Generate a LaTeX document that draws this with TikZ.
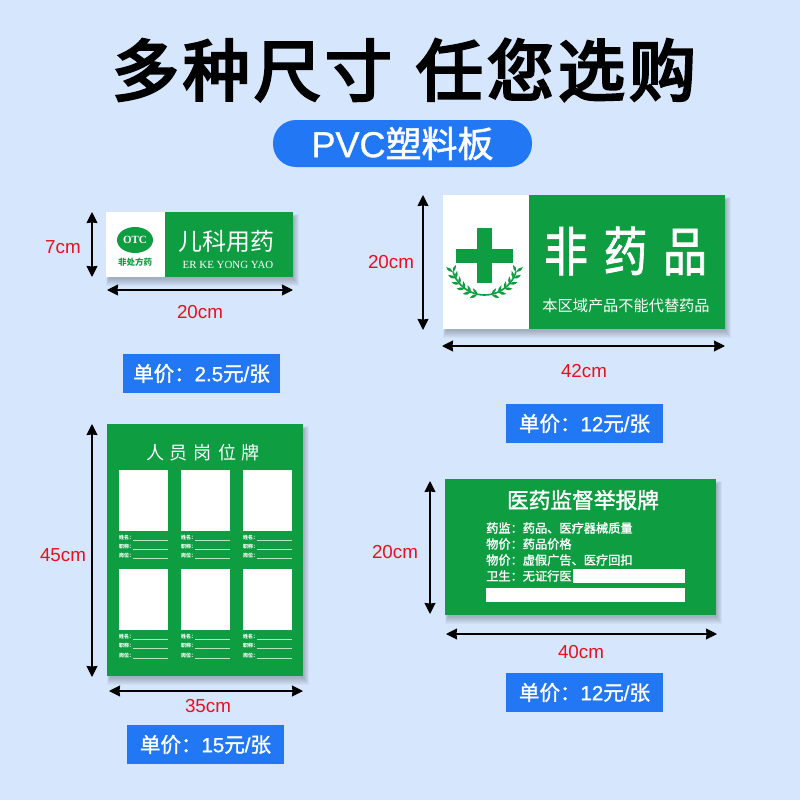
\documentclass[tikz,border=0pt]{standalone}
\usepackage{fontspec}
\setmainfont{Liberation Sans}
\newfontfamily\cjk{Noto Sans CJK SC}
\newfontfamily\cjkmid[FakeBold=1.5]{Noto Sans CJK SC}
\newfontfamily\cjkheading[FakeBold=4,LetterSpace=6]{Noto Sans CJK SC}
\newfontfamily\latinserif{Liberation Serif}
\newfontfamily\latinmid[FakeBold=1]{Liberation Sans}
\usetikzlibrary{arrows.meta}
\definecolor{pagebg}{HTML}{D6E6FC}
\definecolor{signgreen}{HTML}{0F9D42}
\definecolor{priceblue}{HTML}{2277F5}
\definecolor{sizered}{HTML}{E8101E}
\newcommand{\sz}[1]{\fontsize{#1}{#1}\selectfont}
% soft shadow under a sign: x0,y0,x1,y1
\newcommand{\signshadow}[4]{
  \foreach \s in {0,1,...,7}
    \fill[black,opacity=.03] (#1+3-\s*.4,#2+5-\s*.4) rectangle (#3+1+\s*.7,#4+2+\s);
}
% price text: number, then the unit
\newcommand{\pricetext}[1]{{\cjkmid 单价：}{\latinmid #1}{\cjkmid 元}{\latinmid /}{\cjkmid 张}}
\tikzset{
  dimarrow/.style={{Stealth[length=11pt,width=11pt,inset=.5pt]}-{Stealth[length=11pt,width=11pt,inset=.5pt]},line width=1.5pt,black},
  sizelabel/.style={text=sizered,inner sep=0pt,font=\sz{18.8}},
  pricebox/.style={fill=priceblue,text=white,minimum width=157pt,minimum height=39pt,inner sep=0pt,font=\sz{20.5}},
  signtext/.style={text=white,inner sep=0pt},
  greenbox/.style={fill=signgreen,anchor=north west,inner sep=0pt},
  photobox/.style={fill=white,anchor=north west,inner sep=0pt,minimum width=49pt,minimum height=61pt},
  fieldtext/.style={text=white,anchor=west,inner sep=0pt,font=\cjk\bfseries\sz{5}},
  fieldline/.style={white!70!signgreen,line width=.35pt},
  leaf/.style={fill=signgreen}
}
\begin{document}
\begin{tikzpicture}[x=1pt,y=-1pt]
  \useasboundingbox (0,0) rectangle (800,800);
  \fill[pagebg] (0,0) rectangle (800,800);

  % heading
  \node[inner sep=0pt] (heading) at (404,70) {\cjkheading\sz{67}多种尺寸\hspace{24pt}任您选购};
  \node[fill=priceblue,text=white,rounded corners=23pt,minimum width=259pt,minimum height=47pt,inner sep=0pt] (material) at (402.5,143.5)
    {\sz{36}{\latinmid PVC}{\cjkmid 塑料板}};

  % small sign
  \signshadow{106}{212}{293}{277}
  \node[greenbox,minimum width=187pt,minimum height=65pt] (kids) at (106,212) {};
  \fill[white] (106,212) rectangle (164.5,277);
  \fill[signgreen] (135,240) ellipse (18 and 13);
  \node[signtext,font=\latinserif\bfseries\sz{11}] (otc) at (135,240) {OTC};
  \node[inner sep=0pt,text=signgreen,font=\cjk\bfseries\sz{8.5}] (otcname) at (135,262) {非处方药};
  \node[signtext,font=\cjk\sz{24}] (kidstitle) at (226,241) {儿科用药};
  \node[signtext,font=\latinserif\sz{10.9}] (kidspinyin) at (228,265) {ER KE YONG YAO};
  \coordinate (kidsup) at (92,212);
  \coordinate (kidsdown) at (92,277);
  \coordinate (kidsleft) at (107,290);
  \coordinate (kidsright) at (293,290);
  \draw[dimarrow] (kidsup) -- (kidsdown);
  \draw[dimarrow] (kidsleft) -- (kidsright);
  \node[sizelabel] (kidsheight) at (63,247) {7cm};
  \node[sizelabel] (kidswidth) at (200,312) {20cm};
  \node[pricebox] (kidsprice) at (201.5,373.5) {\pricetext{2.5}};

  % non-drug sign
  \signshadow{443}{195}{725}{329}
  \node[greenbox,minimum width=282pt,minimum height=134pt] (nondrug) at (443,195) {};
  \fill[white] (443,195) rectangle (528.5,329);
  \fill[signgreen] (456,249) rectangle (513,263);
  \fill[signgreen] (477,228) rectangle (492,283);
  \coordinate (wreath) at (484.5,262);
  \draw[signgreen,line width=1.6pt] (wreath) ++(18:33) arc (18:162:33);
  \foreach \m in {1,-1}
    \foreach \a in {18,30,42,54,66,78} {
      \begin{scope}[shift={(wreath)},xscale=\m,rotate=-\a]
        \fill[leaf] (33,0) .. controls (36,-1) and (38,-3) .. (38,-7) .. controls (35,-6) and (33,-3) .. (33,0);
        \fill[leaf] (33,0) .. controls (31,-1) and (28,-3) .. (28,-6) .. controls (31,-6) and (33,-3) .. (33,0);
      \end{scope}
    }
  \node[signtext,font=\cjkmid\sz{44},yscale=1.2,transform shape] (nondrugtitle) at (625.5,251) {非\hspace{15.5pt}药\hspace{15.5pt}品};
  \node[signtext,font=\cjk\sz{15.2}] (nondrugnote) at (626,306) {本区域产品不能代替药品};
  \coordinate (nondrugup) at (423,195);
  \coordinate (nondrugdown) at (423,330);
  \coordinate (nondrugleft) at (442,346);
  \coordinate (nondrugright) at (725,346);
  \draw[dimarrow] (nondrugup) -- (nondrugdown);
  \draw[dimarrow] (nondrugleft) -- (nondrugright);
  \node[sizelabel] (nondrugheight) at (391,262) {20cm};
  \node[sizelabel] (nondrugwidth) at (584,371) {42cm};
  \node[pricebox] (nondrugprice) at (584.5,423.5) {\pricetext{12}};

  % staff board
  \signshadow{107}{424}{303}{676}
  \node[greenbox,minimum width=196pt,minimum height=252pt] (staff) at (107,424) {};
  \node[signtext,font=\cjk\sz{18}] (stafftitle) at (203,453) {人\hspace{6pt}员\hspace{6pt}岗\hspace{6pt}位\hspace{6pt}牌};
  \foreach \x in {119,181,243} {
    \node[photobox] (photoa\x) at (\x,470) {};
    \node[photobox] (photob\x) at (\x,569) {};
    \foreach \y/\t in {540/姓名：,549/职称：,558/岗位：,639/姓名：,648/职称：,658/岗位：} {
      \node[fieldtext] (field\x\y) at (\x,\y-2) {\t};
      \draw[fieldline] (\x+14,\y) -- (\x+49,\y);
    }
  }
  \coordinate (staffup) at (92,424);
  \coordinate (staffdown) at (92,677);
  \coordinate (staffleft) at (109,691);
  \coordinate (staffright) at (303,691);
  \draw[dimarrow] (staffup) -- (staffdown);
  \draw[dimarrow] (staffleft) -- (staffright);
  \node[sizelabel] (staffheight) at (63,555) {45cm};
  \node[sizelabel] (staffwidth) at (208,706) {35cm};
  \node[pricebox] (staffprice) at (205.5,744.5) {\pricetext{15}};

  % report board
  \signshadow{445}{479}{716}{615}
  \node[greenbox,minimum width=271pt,minimum height=136pt] (report) at (445,479) {};
  \node[signtext,font=\cjkmid\sz{21.7}] (reporttitle) at (583,500) {医药监督举报牌};
  \foreach \y/\t in {528/药监：药品、医疗器械质量,544/物价：药品价格,560/物价：虚假广告、医疗回扣,576/卫生：无证行医}
    \node[signtext,anchor=west,font=\cjkmid\sz{12.2}] (line\y) at (486,\y) {\t};
  \fill[white] (573,569) rectangle (685,583);
  \fill[white] (486,588) rectangle (685,602);
  \coordinate (reportup) at (430,481);
  \coordinate (reportdown) at (430,614);
  \coordinate (reportleft) at (446,634);
  \coordinate (reportright) at (717,634);
  \draw[dimarrow] (reportup) -- (reportdown);
  \draw[dimarrow] (reportleft) -- (reportright);
  \node[sizelabel] (reportheight) at (395,552) {20cm};
  \node[sizelabel] (reportwidth) at (581,652) {40cm};
  \node[pricebox] (reportprice) at (584.5,692.5) {\pricetext{12}};
\end{tikzpicture}
\end{document}
